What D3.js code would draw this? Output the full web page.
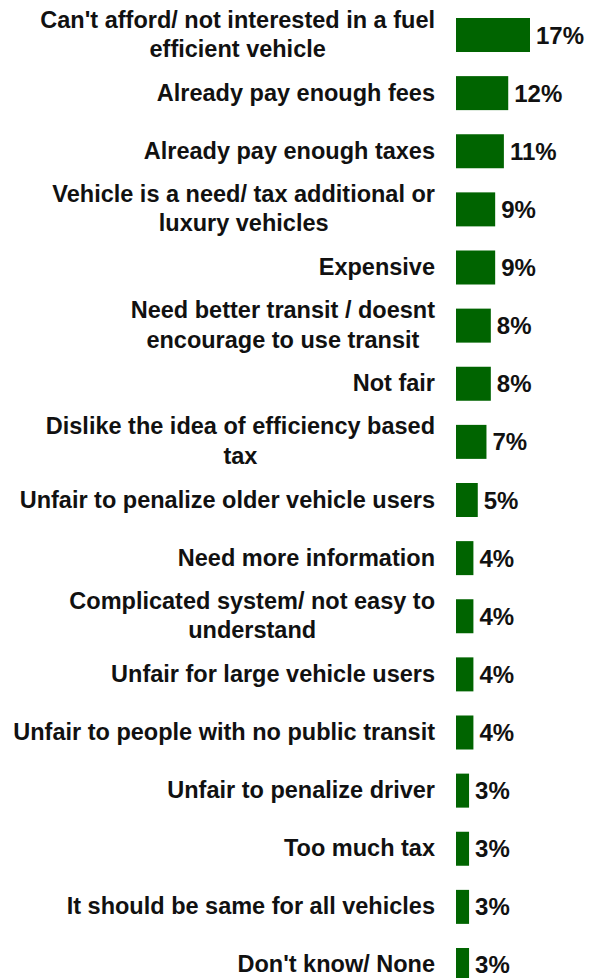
<!DOCTYPE html>
<html>
<head>
<meta charset="utf-8">
<script src="https://cdn.jsdelivr.net/npm/d3@7"></script>
<style>
  html, body { margin: 0; padding: 0; background: #fff; }
  svg { display: block; }
</style>
</head>
<body>
<script>
// Reasons for opposing a fuel-efficiency based vehicle tax (% of respondents)
const categories = [
  "Can't afford/ not interested in a fuel\nefficient vehicle",
  "Already pay enough fees",
  "Already pay enough taxes",
  "Vehicle is a need/ tax additional or\nluxury vehicles",
  "Expensive",
  "Need better transit / doesnt\nencourage to use transit",
  "Not fair",
  "Dislike the idea of efficiency based\ntax",
  "Unfair to penalize older vehicle users",
  "Need more information",
  "Complicated system/ not easy to\nunderstand",
  "Unfair for large vehicle users",
  "Unfair to people with no public transit",
  "Unfair to penalize driver",
  "Too much tax",
  "It should be same for all vehicles",
  "Don't know/ None"
];
const values = [17, 12, 11, 9, 9, 8, 8, 7, 5, 4, 4, 4, 4, 3, 3, 3, 3];
const valueLabels = values.map(v => v + "%");

const width = 590, height = 978;
const barLeft = 456;
const labelRight = 435;

const svg = d3.select("body").append("svg")
  .attr("width", width)
  .attr("height", height);

const x = d3.scaleLinear().domain([0, 17]).range([barLeft, barLeft + 74]);
const y = d3.scaleBand()
  .domain(d3.range(categories.length))
  .range([5.94, 994.06])
  .paddingInner(0.415)
  .paddingOuter(0.2075);

const rows = svg.selectAll("g.row")
  .data(categories.map((c, i) => ({ c, v: values[i], t: valueLabels[i], i })))
  .join("g")
  .attr("class", "row");

// bars
rows.append("rect")
  .attr("x", x(0))
  .attr("y", d => y(d.i))
  .attr("width", d => x(d.v) - x(0))
  .attr("height", y.bandwidth())
  .attr("fill", "#006400");

// value labels
rows.append("text")
  .attr("x", d => x(d.v) + 6)
  .attr("y", d => y(d.i) + y.bandwidth() / 2 + 8.5)
  .attr("font-family", "'Liberation Sans', Arial, sans-serif")
  .attr("font-weight", "bold")
  .attr("font-size", 24)
  .attr("fill", "#111")
  .text(d => d.t);

// category labels: single lines right-aligned, wrapped labels centered on their block
rows.each(function (d) {
  const g = d3.select(this);
  const lines = d.c.split("\n");
  const cy = y(d.i) + y.bandwidth() / 2;
  const txt = g.append("text")
    .attr("font-family", "'Liberation Sans', Arial, sans-serif")
    .attr("font-weight", "bold")
    .attr("font-size", 23.5)
    .attr("fill", "#111");
  if (lines.length === 1) {
    txt.attr("x", labelRight).attr("y", cy + 7.5)
      .attr("text-anchor", "end")
      .text(lines[0]);
  } else {
    const spans = lines.map((ln, k) => txt.append("tspan")
      .attr("y", cy - 7.5 + k * 29.5)
      .text(ln));
    const maxW = d3.max(spans, s => s.node().getComputedTextLength());
    const cx = labelRight - maxW / 2;
    txt.attr("text-anchor", "middle");
    spans.forEach(s => s.attr("x", cx));
  }
});
</script>
</body>
</html>
